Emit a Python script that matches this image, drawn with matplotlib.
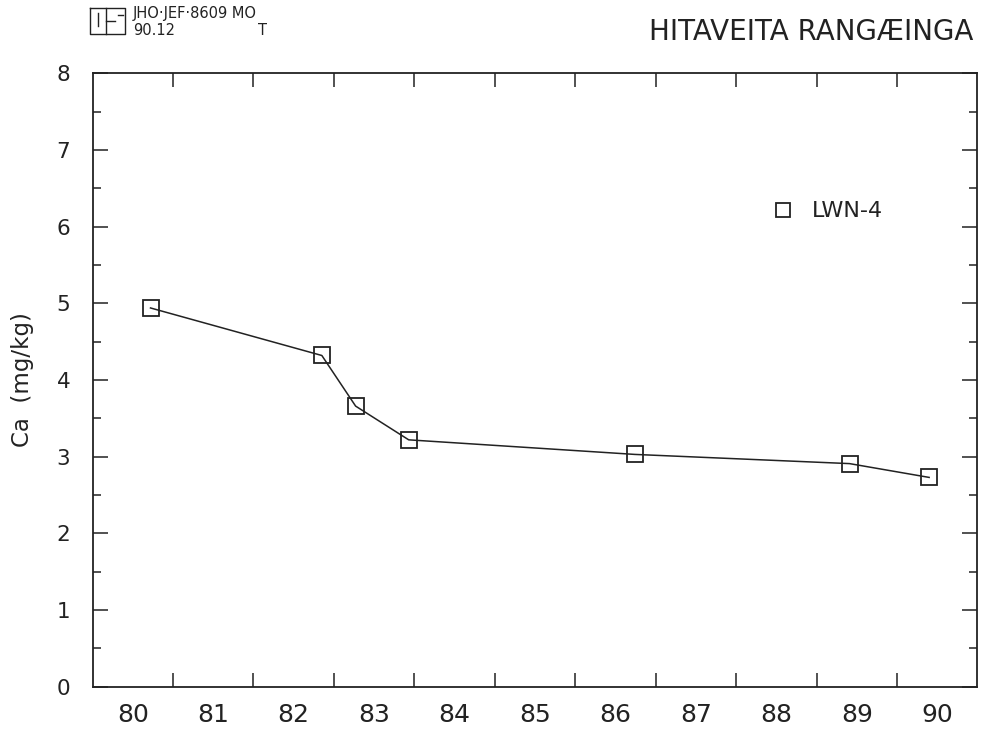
import matplotlib
matplotlib.use('Agg')
import matplotlib.pyplot as plt
from matplotlib.lines import Line2D
import numpy as np

# data (decimal years, Ca in mg/kg)
years = [1980.72, 1982.85, 1983.27, 1983.93, 1986.74, 1989.41, 1990.40]
ca = [4.94, 4.32, 3.66, 3.22, 3.03, 2.91, 2.73]
year_labels = ['80', '81', '82', '83', '84', '85', '86', '87', '88', '89', '90']
series_name = 'LWN-4'

plt.rcParams['font.family'] = 'DejaVu Sans'
ink = '#222222'

fig = plt.figure(figsize=(9.84, 7.37), dpi=100)
ax = fig.add_axes([0.0941, 0.0682, 0.8992, 0.8323])

ax.plot(years, ca, color=ink, linewidth=1.1, marker='s', markersize=11,
        markerfacecolor='none', markeredgecolor=ink, markeredgewidth=1.3)

ax.set_xlim(1980, 1991)
ax.set_ylim(0, 8)

# year boundaries as ticks, labels centred in each year
ax.set_xticks(np.arange(1981, 1991))
ax.set_xticklabels([])
ax.set_xticks(np.arange(1980.5, 1991, 1.0), minor=True)
ax.set_xticklabels(year_labels, minor=True, fontsize=18, color=ink)
ax.tick_params(axis='x', which='major', direction='in', length=10, width=1.1,
               top=True, bottom=True, color=ink)
ax.tick_params(axis='x', which='minor', length=0, pad=12)

ax.set_yticks(np.arange(0, 9, 1))
ax.set_yticks(np.arange(0.5, 8, 1.0), minor=True)
ax.tick_params(axis='y', which='major', direction='in', length=11, width=1.1,
               left=True, right=True, labelsize=15.5, labelcolor=ink, pad=16, color=ink)
ax.tick_params(axis='y', which='minor', direction='in', length=6, width=1.1,
               left=True, right=True, color=ink)

for s in ax.spines.values():
    s.set_linewidth(1.3)
    s.set_color(ink)

ax.set_ylabel('Ca  (mg/kg)', fontsize=16.5, color=ink)
ax.yaxis.set_label_coords(-0.066, 0.5)

handle = Line2D([], [], linestyle='none', marker='s', markersize=10,
                markerfacecolor='none', markeredgecolor=ink, markeredgewidth=1.3)
ax.legend([handle], [series_name], loc='center left', bbox_to_anchor=(0.733, 0.775),
          frameon=False, fontsize=16, handletextpad=0.3, labelcolor=ink)

# header texts
fig.text(0.989, 0.957, 'HITAVEITA RANGÆINGA', ha='right', va='center',
         fontsize=20, color=ink)
fig.text(0.135, 0.982, 'JHO·JEF·8609 MO', ha='left', va='center', fontsize=10.5, color=ink)
fig.text(0.135, 0.959, '90.12', ha='left', va='center', fontsize=10.5, color=ink)
fig.text(0.262, 0.959, 'T', ha='left', va='center', fontsize=10.5, color=ink)

# small stamp box
box = [[0.0915, 0.127, 0.127, 0.0915, 0.0915], [0.989, 0.989, 0.954, 0.954, 0.989]]
fig.add_artist(Line2D(box[0], box[1], color=ink, lw=1.0))
fig.add_artist(Line2D([0.1077, 0.1077], [0.989, 0.954], color=ink, lw=1.0))
fig.add_artist(Line2D([0.0996, 0.0996], [0.982, 0.965], color=ink, lw=1.0))
fig.add_artist(Line2D([0.1077, 0.117], [0.972, 0.972], color=ink, lw=1.0))
fig.add_artist(Line2D([0.120, 0.125], [0.979, 0.979], color=ink, lw=1.0))

fig.savefig('out.png', dpi=100)
